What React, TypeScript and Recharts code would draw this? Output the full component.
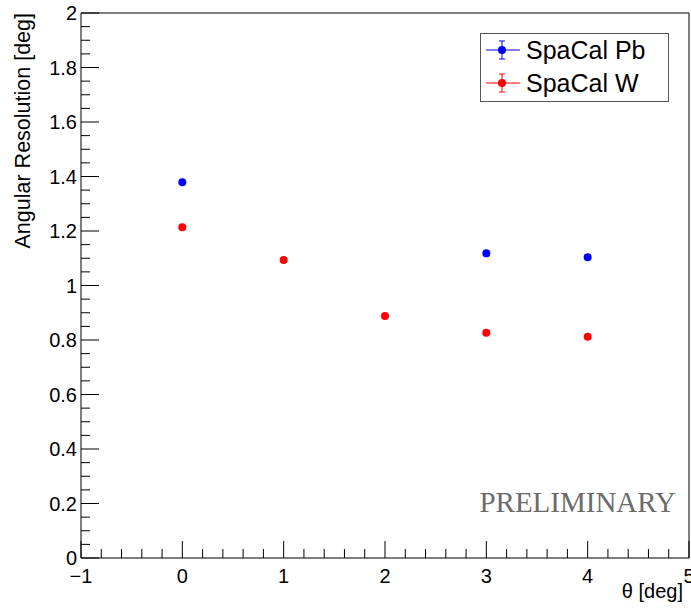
import React from "react";
import {
  ScatterChart,
  Scatter,
  XAxis,
  YAxis,
  ReferenceLine,
  Label,
} from "recharts";

// ---- data ----
const pbTheta = [0, 3, 4];
const pbResolution = [1.379, 1.118, 1.104];
const wTheta = [0, 1, 2, 3, 4];
const wResolution = [1.214, 1.094, 0.888, 0.827, 0.812];

const seriesNames = ["SpaCal Pb", "SpaCal W"];
const seriesColors = ["#0000ff", "#ff0000"];

const xMajorTicks = [-1, 0, 1, 2, 3, 4, 5];
const xTickLabels = ["\u22121", "0", "1", "2", "3", "4", "5"];
const yMajorTicks = [0, 0.2, 0.4, 0.6, 0.8, 1, 1.2, 1.4, 1.6, 1.8, 2];
const yTickLabels = ["0", "0.2", "0.4", "0.6", "0.8", "1", "1.2", "1.4", "1.6", "1.8", "2"];
const xSubdivisions = 5;
const ySubdivisions = 4;

const xTitle = "\u03b8 [deg]";
const yTitle = "Angular Resolution [deg]";
const watermark = "PRELIMINARY";

// ---- derived ----
const pbData = pbTheta.map((t, i) => ({ x: t, y: pbResolution[i] }));
const wData = wTheta.map((t, i) => ({ x: t, y: wResolution[i] }));

function withMinor(major: number[], sub: number): number[] {
  const out: number[] = [];
  for (let i = 0; i < major.length - 1; i++) {
    const a = major[i];
    const b = major[i + 1];
    for (let k = 0; k < sub; k++) out.push(+(a + ((b - a) * k) / sub).toFixed(6));
  }
  out.push(major[major.length - 1]);
  return out;
}
const xTicks = withMinor(xMajorTicks, xSubdivisions);
const yTicks = withMinor(yMajorTicks, ySubdivisions);

const FONT = "'Liberation Sans', Arial, Helvetica, sans-serif";

function majorIndex(v: number, majors: number[]) {
  return majors.findIndex((m) => Math.abs(m - v) < 1e-6);
}

const XTick = (props: any) => {
  const { x, y, payload } = props;
  const idx = majorIndex(payload.value, xMajorTicks);
  const major = idx >= 0;
  return (
    <g>
      <line x1={x} x2={x} y1={y} y2={y - (major ? 17 : 9)} stroke="#000" strokeWidth={1} />
      {major && (
        <text x={x} y={y + 25} textAnchor="middle" fontSize={20} fontFamily={FONT} fill="#000">
          {xTickLabels[idx]}
        </text>
      )}
    </g>
  );
};

const YTick = (props: any) => {
  const { x, y, payload } = props;
  const idx = majorIndex(payload.value, yMajorTicks);
  const major = idx >= 0;
  return (
    <g>
      <line x1={x} x2={x + (major ? 18 : 9)} y1={y} y2={y} stroke="#000" strokeWidth={1} />
      {major && (
        <text x={x - 4} y={y + 7} textAnchor="end" fontSize={20} fontFamily={FONT} fill="#000">
          {yTickLabels[idx]}
        </text>
      )}
    </g>
  );
};

const Dot = (color: string) => (props: any) => {
  const { cx, cy } = props;
  return <circle cx={cx} cy={cy} r={4} fill={color} stroke="none" />;
};

const LegendBox = () => (
  <svg width={190} height={70} style={{ display: "block" }}>
    <rect x={0.5} y={0.5} width={188} height={68} fill="#fff" stroke="#555" strokeWidth={1} />
    {seriesNames.map((name, i) => {
      const cy = 17 + i * 33;
      const c = seriesColors[i];
      return (
        <g key={name}>
          <line x1={6} x2={40} y1={cy} y2={cy} stroke={c} strokeWidth={1} />
          <line x1={22} x2={22} y1={cy - 9} y2={cy + 9} stroke={c} strokeWidth={1} />
          <line x1={19} x2={25} y1={cy - 9} y2={cy - 9} stroke={c} strokeWidth={1} />
          <line x1={19} x2={25} y1={cy + 9} y2={cy + 9} stroke={c} strokeWidth={1} />
          <circle cx={22} cy={cy} r={4} fill={c} />
          <text x={46} y={cy + 9} fontSize={25} fontFamily={FONT} fill="#000">
            {name}
          </text>
        </g>
      );
    })}
  </svg>
);

export default function App() {
  return (
    <div style={{ position: "absolute", left: 0, top: 0, width: 691, height: 609, background: "#fff" }}>
      <ScatterChart
        width={691}
        height={609}
        margin={{ top: 13, right: 2, bottom: 0, left: 0 }}
      >
        <XAxis
          type="number"
          dataKey="x"
          domain={[-1, 5]}
          ticks={xTicks}
          interval={0}
          tickSize={0}
          tickMargin={0}
          tick={<XTick />}
          height={51}
          axisLine={{ stroke: "#000", strokeWidth: 1 }}
          allowDataOverflow
        >
          <Label
            content={(p: any) => {
              const vb = p.viewBox || { x: 81, y: 558, width: 608, height: 51 };
              return (
                <text x={vb.x + vb.width - 6} y={vb.y + 40} textAnchor="end" fontSize={20} fontFamily={FONT} fill="#000">
                  {xTitle}
                </text>
              );
            }}
          />
        </XAxis>
        <YAxis
          type="number"
          dataKey="y"
          domain={[0, 2]}
          ticks={yTicks}
          interval={0}
          tickSize={0}
          tickMargin={0}
          tick={<YTick />}
          width={81}
          axisLine={{ stroke: "#000", strokeWidth: 1 }}
          allowDataOverflow
        >
          <Label
            content={(p: any) => {
              const vb = p.viewBox || { x: 0, y: 13, width: 81, height: 545 };
              const tx = 30;
              const ty = vb.y;
              return (
                <text
                  x={tx}
                  y={ty}
                  transform={`rotate(-90, ${tx}, ${ty})`}
                  textAnchor="end"
                  fontSize={21.5}
                  fontFamily={FONT}
                  fill="#000"
                >
                  {yTitle}
                </text>
              );
            }}
          />
        </YAxis>
        <ReferenceLine y={2} stroke="#000" strokeWidth={1} />
        <ReferenceLine x={5} stroke="#000" strokeWidth={1} />
        <Scatter name={seriesNames[0]} data={pbData} fill={seriesColors[0]} shape={Dot(seriesColors[0])} isAnimationActive={false} />
        <Scatter name={seriesNames[1]} data={wData} fill={seriesColors[1]} shape={Dot(seriesColors[1])} isAnimationActive={false} />
      </ScatterChart>
      <div style={{ position: "absolute", left: 480, top: 33 }}>
        <LegendBox />
      </div>
      <div
        style={{
          position: "absolute",
          right: 691 - 676,
          top: 486,
          fontFamily: "'Liberation Serif', 'Times New Roman', serif",
          fontSize: 29,
          lineHeight: "32px",
          color: "#6b6b6b",
          whiteSpace: "nowrap",
        }}
      >
        {watermark}
      </div>
    </div>
  );
}
